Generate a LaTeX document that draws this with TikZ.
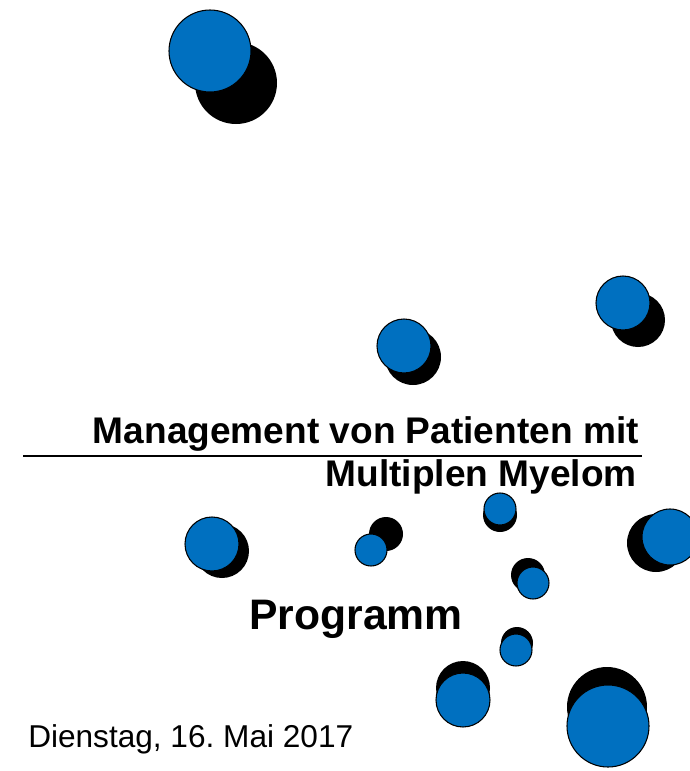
\documentclass[tikz,border=0pt]{standalone}
\usepackage{fontspec}
\setmainfont{Liberation Sans}
\usepackage{tikz}
\usetikzlibrary{positioning}

\definecolor{dotblue}{RGB}{0,112,192}
\tikzset{
  backdot/.style={fill=black},
  frontdot/.style={fill=dotblue,draw=black,line width=0.8pt},
  titletext/.style={inner sep=0pt,font=\fontsize{27.8}{32}\selectfont\bfseries},
}

\begin{document}
\begin{tikzpicture}[x=0.75pt,y=-0.75pt]
\useasboundingbox (0,0) rectangle (689,771);
% black shadow first, blue dot on top
\foreach \kx/\ky/\kr/\bx/\by/\br in {
    236/83/41/210/51/41,
    413/357/28/404/346/27,
    638/320/27/623/303/27,
    222/551/27/212/544/27,
    386/534/17/371/550/16,
    500/515/17/500/509/16,
    656/543/29/670/537/28,
    528/575/17/533/583/16,
    517/643/16/516/650/16,
    463/688/27/463/700/27,
    607/707/40/608/726/41} {
  \fill[backdot] (\kx,\ky) circle[radius=\kr];
  \filldraw[frontdot] (\bx,\by) circle[radius=\br];
}
\node[titletext,anchor=base east] (title1) at (639,443) {Management von Patienten mit};
\node[titletext,anchor=base east] (title2) at (637,486) {Multiplen Myelom};
\coordinate (rulel) at (23,456);
\coordinate (ruler) at (642,456);
\draw[line width=1.5pt] (rulel) -- (ruler);
\node[titletext,anchor=base west,font=\fontsize{32}{36}\selectfont\bfseries] (prog) at (249,629) {Programm};
\node[inner sep=0pt,anchor=base west,font=\fontsize{23.7}{28}\selectfont] (date) at (28,747) {Dienstag, 16.\ Mai 2017};
\end{tikzpicture}
\end{document}
